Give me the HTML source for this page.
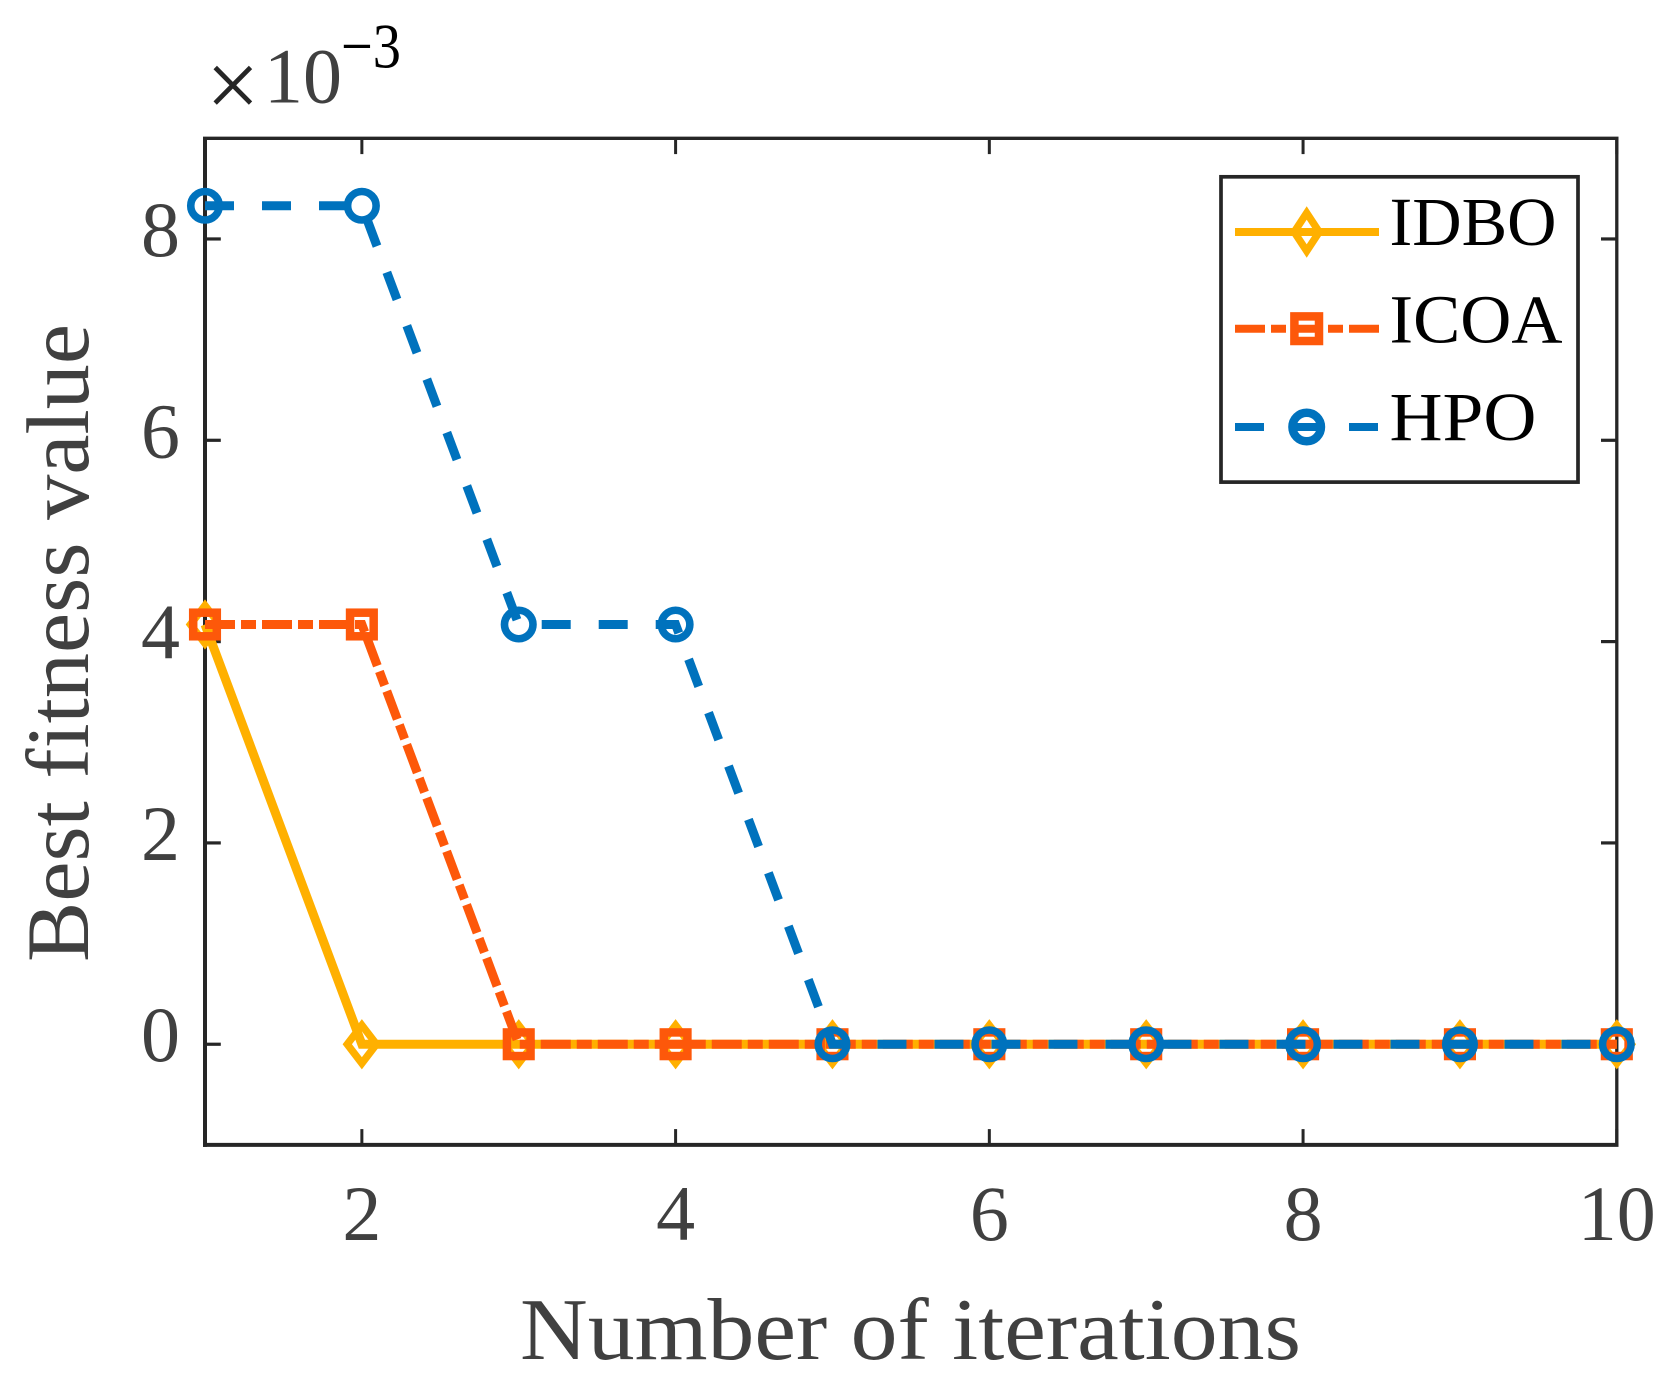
<!DOCTYPE html>
<html lang="en">
<head>
<meta charset="utf-8">
<title>Best fitness value vs number of iterations</title>
<style>
html,body{margin:0;padding:0;background:#fff;}
svg{display:block;}
text{font-family:"Liberation Serif",serif;}
</style>
</head>
<body>
<svg id="chart" xmlns="http://www.w3.org/2000/svg" width="1673" height="1386" viewBox="0 0 1673 1386"></svg>
<script>
const iterations = [1, 2, 3, 4, 5, 6, 7, 8, 9, 10];
const idboValues = [4.17, 0, 0, 0, 0, 0, 0, 0, 0, 0];
const icoaValues = [4.17, 4.17, 0, 0, 0, 0, 0, 0, 0, 0];
const hpoValues = [8.33, 8.33, 4.17, 4.17, 0, 0, 0, 0, 0, 0];
const xTickValues = [2, 4, 6, 8, 10];
const yTickValues = [0, 2, 4, 6, 8];
const xTickLabels = ['2', '4', '6', '8', '10'];
const yTickLabels = ['0', '2', '4', '6', '8'];
const xDomain = [1, 10];
const yDomain = [-1, 9];

const plot = {left: 205, right: 1616.8, top: 138.3, bottom: 1144.9};
const svg = document.getElementById('chart');
const NS = 'http://www.w3.org/2000/svg';
const axisColor = '#262626';
const labelColor = '#404040';
const COLORS = {idbo: '#ffb000', icoa: '#fd580a', hpo: '#0072bd'};
const DASH = {idbo: null, icoa: '30 6 15 6', hpo: '29 28'};

function xScale(v) {
  return plot.left + (v - xDomain[0]) / (xDomain[1] - xDomain[0]) * (plot.right - plot.left);
}
function yScale(v) {
  return plot.bottom - (v - yDomain[0]) / (yDomain[1] - yDomain[0]) * (plot.bottom - plot.top);
}
function make(tag, attrs, parent) {
  const node = document.createElementNS(NS, tag);
  for (const k in attrs) node.setAttribute(k, attrs[k]);
  (parent || svg).appendChild(node);
  return node;
}
function drawMarker(kind, cx, cy, color, parent, inLegend) {
  if (kind === 'idbo') {
    const a = inLegend ? 12.5 : 14.6;
    const b = 19;
    return make('polygon', {
      points: [cx, cy - b, cx + a, cy, cx, cy + b, cx - a, cy].join(' '),
      fill: 'none', stroke: color, 'stroke-width': 7.4, 'stroke-linejoin': 'miter', 'stroke-miterlimit': 10
    }, parent);
  }
  if (kind === 'icoa') {
    const h = inLegend ? 12.3 : 11.8;
    return make('rect', {
      x: cx - h, y: cy - h, width: 2 * h, height: 2 * h,
      fill: 'none', stroke: color, 'stroke-width': 8.5
    }, parent);
  }
  return make('circle', {
    cx: cx, cy: cy, r: 14.25, fill: 'none', stroke: color, 'stroke-width': inLegend ? 8.5 : 7.6
  }, parent);
}

/* background */
const bg = make('rect', {x: 0, y: 0, width: 1673, height: 1386, fill: '#fff'});



/* axes box */
const axes = make('g', {});


const spineTop = make('line', {x1: plot.left - 2, x2: plot.right + 1.7, y1: plot.top, y2: plot.top, stroke: axisColor, 'stroke-width': 3.3}, axes);


const spineRight = make('line', {x1: plot.right, x2: plot.right, y1: plot.top, y2: plot.bottom, stroke: axisColor, 'stroke-width': 3.3}, axes);


const spineLeft = make('line', {x1: plot.left, x2: plot.left, y1: plot.top, y2: plot.bottom + 2, stroke: axisColor, 'stroke-width': 4}, axes);


const spineBottom = make('line', {x1: plot.left - 2, x2: plot.right + 1.7, y1: plot.bottom, y2: plot.bottom, stroke: axisColor, 'stroke-width': 4}, axes);



const TICK = 15.8;
xTickValues.forEach(function (v, i) {
  const x = xScale(v);
  const bottomTick = make('line', {x1: x, x2: x, y1: plot.bottom, y2: plot.bottom - TICK, stroke: axisColor, 'stroke-width': 3}, axes);
  
  
  const topTick = make('line', {x1: x, x2: x, y1: plot.top, y2: plot.top + TICK, stroke: axisColor, 'stroke-width': 3}, axes);
  
  
  const label = make('text', {x: x, y: 1240, 'text-anchor': 'middle', 'font-size': 78, fill: labelColor}, axes);
  label.textContent = xTickLabels[i];
  
  
});
yTickValues.forEach(function (v, i) {
  const y = yScale(v);
  const leftTick = make('line', {x1: plot.left, x2: plot.left + TICK, y1: y, y2: y, stroke: axisColor, 'stroke-width': 3.2}, axes);
  
  
  const rightTick = make('line', {x1: plot.right, x2: plot.right - TICK, y1: y, y2: y, stroke: axisColor, 'stroke-width': 3.2}, axes);
  
  
  const label = make('text', {x: 180, y: y + 17, 'text-anchor': 'end', 'font-size': 78, fill: labelColor}, axes);
  label.textContent = yTickLabels[i];
  
  
});

/* axis titles */
const xTitle = make('text', {x: 520, y: 1359, 'font-size': 88, fill: labelColor, textLength: 781, lengthAdjust: 'spacingAndGlyphs'});
xTitle.textContent = 'Number of iterations';


const yTitle = make('text', {x: 0, y: 0, 'font-size': 89, fill: labelColor, textLength: 638, lengthAdjust: 'spacingAndGlyphs', transform: 'translate(88 962) rotate(-90)'});
yTitle.textContent = 'Best fitness value';



/* exponent */
const expGroup = make('g', {});


const expTimes = make('text', {x: 206, y: 117, 'font-size': 95, fill: axisColor}, expGroup);
expTimes.textContent = '×';


const expBase = make('text', {x: 264, y: 102.5, 'font-size': 78, fill: labelColor}, expGroup);
expBase.textContent = '10';


const expPower = make('text', {x: 341, y: 67.5, 'font-size': 64, fill: '#000', textLength: 60, lengthAdjust: 'spacingAndGlyphs'}, expGroup);
expPower.textContent = '−3';



/* series */
function drawSeries(kind, values, name) {
  const g = make('g', {});
  
  
  const pts = values.map(function (v, i) { return xScale(iterations[i]) + ',' + yScale(v); }).join(' ');
  const attrs = {points: pts, fill: 'none', stroke: COLORS[kind], 'stroke-width': 9, 'stroke-linejoin': 'miter', 'stroke-linecap': 'butt'};
  if (DASH[kind]) attrs['stroke-dasharray'] = DASH[kind];
  const line = make('polyline', attrs, g);
  
  
  values.forEach(function (v, i) {
    const m = drawMarker(kind, xScale(iterations[i]), yScale(v), COLORS[kind], g, false);
    
    
  });
}
drawSeries('idbo', idboValues, 'idbo');
drawSeries('icoa', icoaValues, 'icoa');
drawSeries('hpo', hpoValues, 'hpo');

/* legend */
const legend = make('g', {});


const legendBox = make('rect', {x: 1221, y: 176.8, width: 357, height: 305.3, fill: '#fff', stroke: axisColor, 'stroke-width': 3.7}, legend);



const entryIdboLine = make('line', {x1: 1235, x2: 1379, y1: 232, y2: 232, stroke: COLORS.idbo, 'stroke-width': 8}, legend);


const entryIdboMarker = drawMarker('idbo', 1306.7, 232, COLORS.idbo, legend, true);


const entryIdboText = make('text', {x: 1389.5, y: 245, 'font-size': 69, fill: '#000', textLength: 167, lengthAdjust: 'spacingAndGlyphs'}, legend);
entryIdboText.textContent = 'IDBO';



const entryIcoaLine = make('line', {x1: 1235, x2: 1379, y1: 328.7, y2: 328.7, stroke: COLORS.icoa, 'stroke-width': 8, 'stroke-dasharray': DASH.icoa}, legend);


const entryIcoaMarker = drawMarker('icoa', 1306.7, 328.7, COLORS.icoa, legend, true);


const entryIcoaText = make('text', {x: 1389.5, y: 342.3, 'font-size': 69, fill: '#000', textLength: 173, lengthAdjust: 'spacingAndGlyphs'}, legend);
entryIcoaText.textContent = 'ICOA';



const entryHpoLine = make('line', {x1: 1235, x2: 1379, y1: 427, y2: 427, stroke: COLORS.hpo, 'stroke-width': 8, 'stroke-dasharray': DASH.hpo}, legend);


const entryHpoMarker = drawMarker('hpo', 1306.7, 427, COLORS.hpo, legend, true);


const entryHpoText = make('text', {x: 1389.5, y: 440, 'font-size': 69, fill: '#000', textLength: 147, lengthAdjust: 'spacingAndGlyphs'}, legend);
entryHpoText.textContent = 'HPO';


</script>
</body>
</html>
